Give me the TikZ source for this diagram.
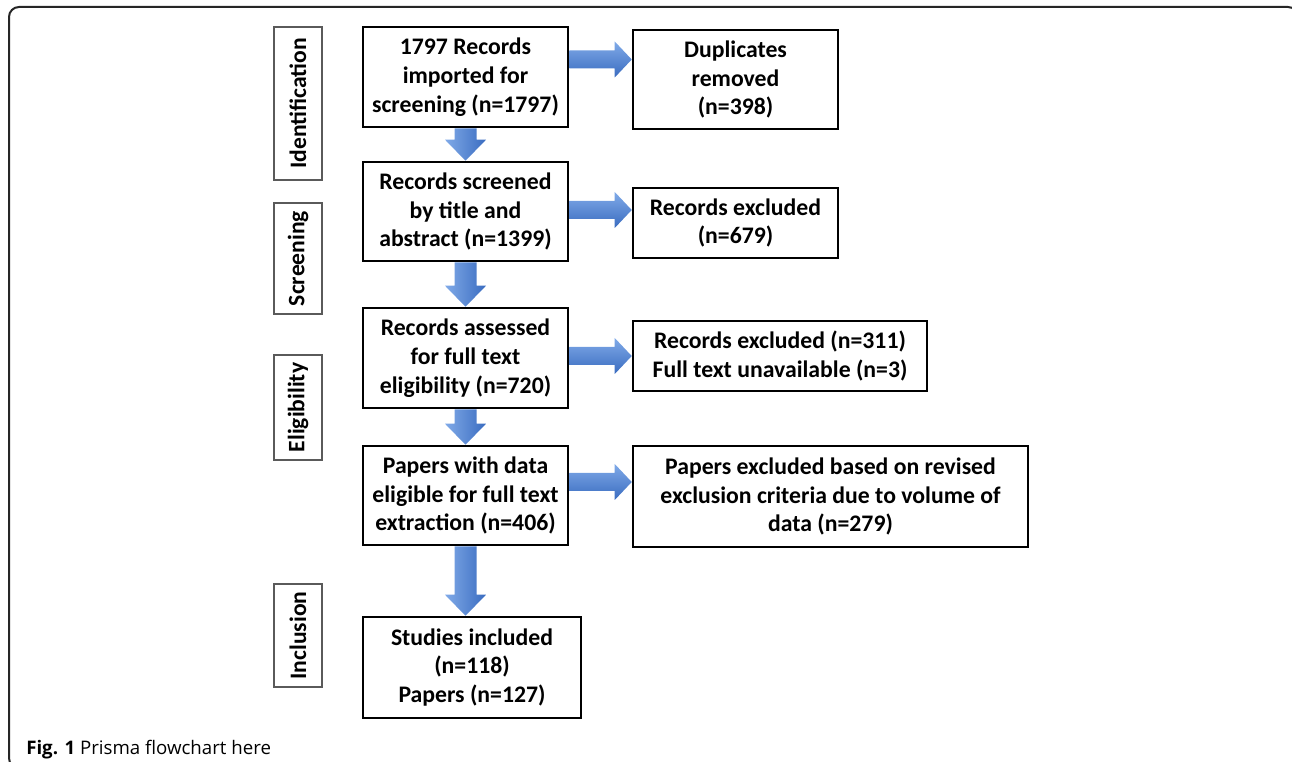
\documentclass[tikz,border=0pt]{standalone}
\usepackage{fontspec}
\setmainfont{Carlito}
\newfontfamily\capfont{Open Sans}
\usetikzlibrary{calc}
\definecolor{arrlight}{RGB}{128,170,232}
\definecolor{arrdark}{RGB}{58,108,192}
\definecolor{lblgray}{RGB}{90,90,90}
\tikzset{
  box/.style={draw=black, line width=1.9pt, align=center, inner sep=0pt,
    font=\bfseries\fontsize{17.8}{21.6}\selectfont},
  lbl/.style={draw=lblgray, line width=1.1pt, rotate=90, inner sep=0pt,
    minimum height=36pt, font=\bfseries\fontsize{17.7}{20}\selectfont},
  rarr/.style={top color=arrlight, bottom color=arrdark, draw=none},
  darr/.style={left color=arrlight, right color=arrdark, draw=none},
  frame/.style={draw=black!85, line width=1.5pt, rounded corners=7.5pt},
}
\newcommand{\rarrow}[3]{%
  \path[rarr] ($(#1.east|-0,#3)+(0,-9)$) -- ($(#2.west|-0,#3)+(-17,-9)$)
    -- ($(#2.west|-0,#3)+(-17,-18)$) -- (#2.west|-0,#3)
    -- ($(#2.west|-0,#3)+(-17,18)$) -- ($(#2.west|-0,#3)+(-17,9)$)
    -- ($(#1.east|-0,#3)+(0,9)$) -- cycle;}
\newcommand{\darrow}[2]{%
  \path[darr] ($(#1.south)+(-11,0)$) -- ($(#1.south|-#2.north)+(-11,-21)$)
    -- ($(#1.south|-#2.north)+(-20.5,-21)$) -- (#1.south|-#2.north)
    -- ($(#1.south|-#2.north)+(20.5,-21)$) -- ($(#1.south|-#2.north)+(11,-21)$)
    -- ($(#1.south)+(11,0)$) -- cycle;}
\begin{document}
\begin{tikzpicture}[x=0.75pt,y=-0.75pt]
\useasboundingbox (0,0) rectangle (1292,762);
\path[frame] (9,7) rectangle (1298,768);

% stage labels
\node[lbl, minimum width=114.75pt] (lid) at (298,103.5) {Identification};
\node[lbl, minimum width=83.25pt] (lsc) at (298,258.5) {Screening};
\node[lbl, minimum width=78.75pt] (lel) at (298,407.5) {Eligibility};
\node[lbl, minimum width=77.25pt] (lin) at (298,635.5) {Inclusion};

% main column
\node[box, minimum width=153.75pt, minimum height=75pt] (b1) at (465.5,77)
  {1797 Records\\imported for\\screening (n=1797)};
\node[box, minimum width=153.75pt, minimum height=74.25pt] (b2) at (465.5,211.5)
  {Records screened\\by title and\\abstract (n=1399)};
\node[box, minimum width=153.75pt, minimum height=75pt] (b3) at (465.5,358)
  {Records assessed\\for full text\\eligibility (n=720)};
\node[box, minimum width=153.75pt, minimum height=74.25pt] (b4) at (465.5,495.5)
  {Papers with data\\eligible for full text\\extraction (n=406)};
\node[box, minimum width=163.5pt, minimum height=75.75pt] (b5) at (472,667.5)
  {Studies included\\(n=118)\\Papers (n=127)};

% right column
\node[box, minimum width=153.75pt, minimum height=74.25pt] (r1) at (735.5,79.5)
  {Duplicates\\removed\\(n=398)};
\node[box, minimum width=153.75pt, minimum height=52.5pt] (r2) at (735.5,223)
  {Records excluded\\(n=679)};
\node[box, minimum width=220.5pt, minimum height=52.5pt] (r3) at (780,356)
  {Records excluded (n=311)\\Full text unavailable (n=3)};
\node[box, minimum width=296.25pt, minimum height=75.75pt] (r4) at (830.5,496.5)
  {Papers excluded based on revised\\exclusion criteria due to volume of\\data (n=279)};

% arrows
\rarrow{b1}{r1}{59.5}
\rarrow{b2}{r2}{210}
\rarrow{b3}{r3}{356}
\rarrow{b4}{r4}{482}
\darrow{b1}{b2}
\darrow{b2}{b3}
\darrow{b3}{b4}
\darrow{b4}{b5}

% caption
\node[anchor=base west, inner sep=0pt, font=\capfont\fontsize{14}{16}\selectfont]
  (cap) at (26,754) {\textbf{Fig. 1} Prisma flowchart here};
\end{tikzpicture}
\end{document}
